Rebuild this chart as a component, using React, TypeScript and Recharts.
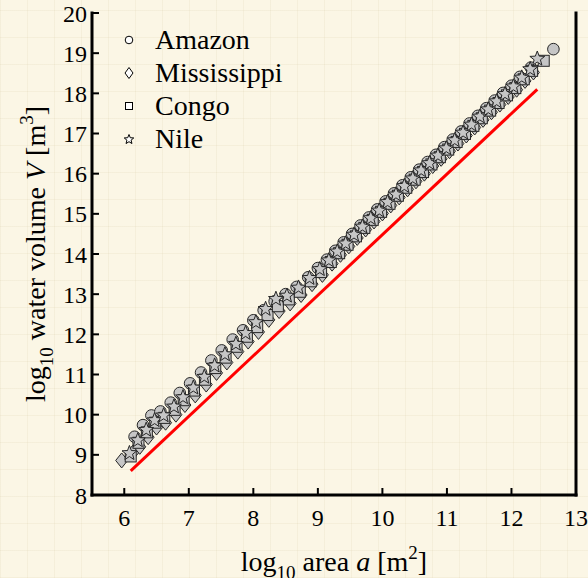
import { Scatter, ScatterChart, XAxis, YAxis } from 'recharts';

type Pair = [number, number];

const xTicks = [6, 7, 8, 9, 10, 11, 12, 13];
const yTicks = [8, 9, 10, 11, 12, 13, 14, 15, 16, 17, 18, 19, 20];

const amazon: Pair[] = [
  [6.16, 9.45], [6.29, 9.74], [6.42, 9.98], [6.56, 10.08], [6.72, 10.3], [6.86, 10.54], [7.02, 10.78],
  [7.19, 11.05], [7.35, 11.35], [7.51, 11.6], [7.68, 11.87], [7.84, 12.1], [8.0, 12.35], [8.16, 12.6],
  [8.33, 12.82], [8.5, 13.0], [8.67, 13.18], [8.85, 13.42], [9.0, 13.65], [9.14, 13.86], [9.27, 14.08],
  [9.4, 14.29], [9.53, 14.5], [9.66, 14.71], [9.79, 14.91], [9.92, 15.11], [10.05, 15.31], [10.18, 15.51],
  [10.31, 15.71], [10.44, 15.91], [10.57, 16.1], [10.7, 16.29], [10.83, 16.47], [10.96, 16.66],
  [11.09, 16.85], [11.22, 17.05], [11.35, 17.25], [11.48, 17.44], [11.61, 17.63], [11.74, 17.82],
  [11.87, 18.01], [12.0, 18.19], [12.13, 18.41], [12.3, 18.64], [12.65, 19.1],
];

const mississippi: Pair[] = [
  [5.96, 8.86], [6.13, 9.05], [6.24, 9.2], [6.37, 9.44], [6.5, 9.68], [6.64, 9.8], [6.8, 10.0],
  [6.94, 10.24], [7.1, 10.48], [7.27, 10.75], [7.43, 11.04], [7.59, 11.3], [7.76, 11.57], [7.92, 11.82],
  [8.08, 12.06], [8.24, 12.36], [8.4, 12.58], [8.57, 12.77], [8.74, 12.98], [8.91, 13.25], [9.07, 13.48],
  [9.22, 13.76], [9.35, 13.98], [9.48, 14.19], [9.61, 14.4], [9.74, 14.61], [9.87, 14.81], [10.0, 15.01],
  [10.13, 15.21], [10.26, 15.41], [10.39, 15.61], [10.52, 15.81], [10.65, 16.0], [10.78, 16.19],
  [10.91, 16.37], [11.04, 16.56], [11.17, 16.75], [11.3, 16.95], [11.43, 17.15], [11.56, 17.34],
  [11.69, 17.53], [11.82, 17.72], [11.95, 17.91], [12.08, 18.09], [12.21, 18.31], [12.34, 18.52],
];

const congo: Pair[] = [
  [6.1, 8.96], [6.22, 9.3], [6.35, 9.56], [6.48, 9.8], [6.62, 9.92], [6.78, 10.12], [6.92, 10.36],
  [7.08, 10.6], [7.25, 10.87], [7.41, 11.16], [7.57, 11.42], [7.74, 11.69], [7.9, 11.94], [8.06, 12.18],
  [8.22, 12.48], [8.38, 12.7], [8.55, 12.87], [8.72, 13.06], [8.89, 13.32], [9.05, 13.55], [9.2, 13.8],
  [9.33, 14.02], [9.46, 14.23], [9.59, 14.44], [9.72, 14.65], [9.85, 14.85], [9.98, 15.05], [10.11, 15.25],
  [10.24, 15.45], [10.37, 15.65], [10.5, 15.85], [10.63, 16.04], [10.76, 16.23], [10.89, 16.41],
  [11.02, 16.6], [11.15, 16.79], [11.28, 16.99], [11.41, 17.19], [11.54, 17.38], [11.67, 17.57],
  [11.8, 17.76], [11.93, 17.95], [12.06, 18.13], [12.19, 18.35], [12.32, 18.56], [12.5, 18.81],
];

const nile: Pair[] = [
  [6.08, 9.04], [6.21, 9.36], [6.34, 9.62], [6.47, 9.86], [6.61, 9.98], [6.77, 10.2], [6.91, 10.43],
  [7.07, 10.67], [7.24, 10.94], [7.4, 11.22], [7.56, 11.5], [7.73, 11.76], [7.88, 12.03], [8.04, 12.3],
  [8.19, 12.63], [8.35, 12.88], [8.52, 12.96], [8.7, 13.16], [8.87, 13.4], [9.03, 13.62], [9.17, 13.84],
  [9.3, 14.06], [9.43, 14.26], [9.56, 14.48], [9.69, 14.68], [9.82, 14.89], [9.95, 15.08], [10.08, 15.29],
  [10.21, 15.48], [10.34, 15.69], [10.47, 15.88], [10.6, 16.08], [10.73, 16.26], [10.86, 16.45],
  [10.99, 16.63], [11.12, 16.83], [11.25, 17.02], [11.38, 17.22], [11.51, 17.42], [11.64, 17.6],
  [11.77, 17.8], [11.9, 17.98], [12.03, 18.17], [12.16, 18.39], [12.29, 18.6], [12.4, 18.86],
];

// fitted reference line
const redLine: Pair[] = [[6.1, 8.6], [12.4, 18.1]];

const toPoints = (arr: Pair[]) => arr.map(([x, y]) => ({ x, y }));

const FONT = '"Liberation Serif", "Times New Roman", serif';
const FILL = '#c6c6c6';
const EDGE = '#262626';

function starPath(cx: number, cy: number, ro: number, ri: number) {
  let d = '';
  for (let i = 0; i < 10; i++) {
    const r = i % 2 === 0 ? ro : ri;
    const a = -Math.PI / 2 + (i * Math.PI) / 5;
    d += `${i === 0 ? 'M' : 'L'}${cx + r * Math.cos(a)},${cy + r * Math.sin(a)}`;
  }
  return d + 'Z';
}

const CircleMark = ({ cx, cy }: any) => <circle cx={cx} cy={cy} r={5.8} fill={FILL} stroke={EDGE} strokeWidth={1} />;
const DiamondMark = ({ cx, cy }: any) => (
  <path d={`M${cx},${cy - 7.5}L${cx + 6},${cy}L${cx},${cy + 7.5}L${cx - 6},${cy}Z`} fill={FILL} stroke={EDGE} strokeWidth={1} />
);
const SquareMark = ({ cx, cy }: any) => <rect x={cx - 5.5} y={cy - 5.5} width={11} height={11} fill={FILL} stroke={EDGE} strokeWidth={1} />;
const StarMark = ({ cx, cy }: any) => <path d={starPath(cx, cy, 7.8, 3.3)} fill={FILL} stroke={EDGE} strokeWidth={1} />;

const legendItems = [
  { name: 'Amazon', icon: <circle cx={9} cy={9} r={3.8} fill="#fff" stroke="#000" strokeWidth={1} /> },
  { name: 'Mississippi', icon: <path d="M9,3.5L13,9L9,14.5L5,9Z" fill="#fff" stroke="#000" strokeWidth={1} /> },
  { name: 'Congo', icon: <rect x={5.5} y={5.5} width={7} height={7} fill="#fff" stroke="#000" strokeWidth={1} /> },
  { name: 'Nile', icon: <path d={starPath(9, 9.5, 5, 2.2)} fill="#fff" stroke="#000" strokeWidth={1} /> },
];

const XTitle = ({ viewBox }: any) => (
  <text x={viewBox.x + viewBox.width / 2} y={571} textAnchor="middle" fontSize={28} fontFamily={FONT} fill="#000">
    log<tspan fontSize={19} dy={8}>10</tspan>
    <tspan dy={-8}> area </tspan>
    <tspan fontStyle="italic">a</tspan> [m<tspan fontSize={19} dy={-12}>2</tspan>
    <tspan dy={12}>]</tspan>
  </text>
);

const YTitle = () => (
  <text transform="translate(45,254) rotate(-90)" textAnchor="middle" fontSize={28} fontFamily={FONT} fill="#000">
    log<tspan fontSize={19} dy={8}>10</tspan>
    <tspan dy={-8}> water volume </tspan>
    <tspan fontStyle="italic">V</tspan> [m<tspan fontSize={19} dy={-12}>3</tspan>
    <tspan dy={12}>]</tspan>
  </text>
);

const axisLine = { stroke: '#000', strokeWidth: 3, strokeLinecap: 'square' as const };
const tickLine = { stroke: '#000', strokeWidth: 2 };
const tickStyle = { fill: '#000', fontSize: 24, fontFamily: FONT };

export default function App() {
  return (
    <div
      style={{
        position: 'fixed',
        top: 0,
        left: 0,
        width: 588,
        height: 578,
        backgroundColor: '#fbf6e5',
        backgroundImage:
          'repeating-linear-gradient(0deg, rgba(200,185,140,0.12) 0 1px, transparent 1px 27px), repeating-linear-gradient(90deg, rgba(200,185,140,0.12) 0 1px, transparent 1px 27px)',
        fontFamily: FONT,
      }}
    >
      <ScatterChart width={588} height={578} margin={{ top: 13, right: 0, bottom: 0, left: 0 }}>
        <XAxis
          xAxisId="bottom"
          dataKey="x"
          type="number"
          domain={[5.5, 13]}
          ticks={xTicks}
          interval={0}
          height={83}
          axisLine={axisLine}
          tickLine={tickLine}
          tickSize={-7}
          tickMargin={21}
          tick={tickStyle}
          label={<XTitle />}
        />
        <XAxis
          xAxisId="top"
          orientation="top"
          dataKey="x"
          type="number"
          domain={[5.5, 13]}
          ticks={xTicks}
          interval={0}
          height={0}
          axisLine={axisLine}
          tickLine={tickLine}
          tickSize={-7}
          tick={false}
        />
        <YAxis
          yAxisId="left"
          dataKey="y"
          type="number"
          domain={[8, 20]}
          ticks={yTicks}
          interval={0}
          width={92}
          axisLine={axisLine}
          tickLine={tickLine}
          tickSize={-7}
          tickMargin={12}
          tick={tickStyle}
          label={<YTitle />}
        />
        <YAxis
          yAxisId="right"
          orientation="right"
          dataKey="y"
          type="number"
          domain={[8, 20]}
          ticks={yTicks}
          interval={0}
          width={12}
          axisLine={axisLine}
          tickLine={tickLine}
          tickSize={-7}
          tick={false}
        />
        <Scatter name="Amazon" data={toPoints(amazon)} xAxisId="bottom" yAxisId="left" shape={CircleMark} isAnimationActive={false} />
        <Scatter name="Mississippi" data={toPoints(mississippi)} xAxisId="bottom" yAxisId="left" shape={DiamondMark} isAnimationActive={false} />
        <Scatter name="Congo" data={toPoints(congo)} xAxisId="bottom" yAxisId="left" shape={SquareMark} isAnimationActive={false} />
        <Scatter name="Nile" data={toPoints(nile)} xAxisId="bottom" yAxisId="left" shape={StarMark} isAnimationActive={false} />
        <Scatter
          data={toPoints(redLine)}
          xAxisId="top"
          yAxisId="right"
          line={{ stroke: '#ff0000', strokeWidth: 3 }}
          shape={() => <g />}
          legendType="none"
          isAnimationActive={false}
        />
      </ScatterChart>
      <div style={{ position: 'absolute', left: 120, top: 23, pointerEvents: 'none' }}>
        {legendItems.map((item) => (
          <div key={item.name} style={{ display: 'flex', alignItems: 'center', height: 33 }}>
            <svg width={18} height={18} style={{ marginRight: 17 }}>
              {item.icon}
            </svg>
            <span style={{ fontSize: 28, lineHeight: '33px', color: '#000' }}>{item.name}</span>
          </div>
        ))}
      </div>
    </div>
  );
}
